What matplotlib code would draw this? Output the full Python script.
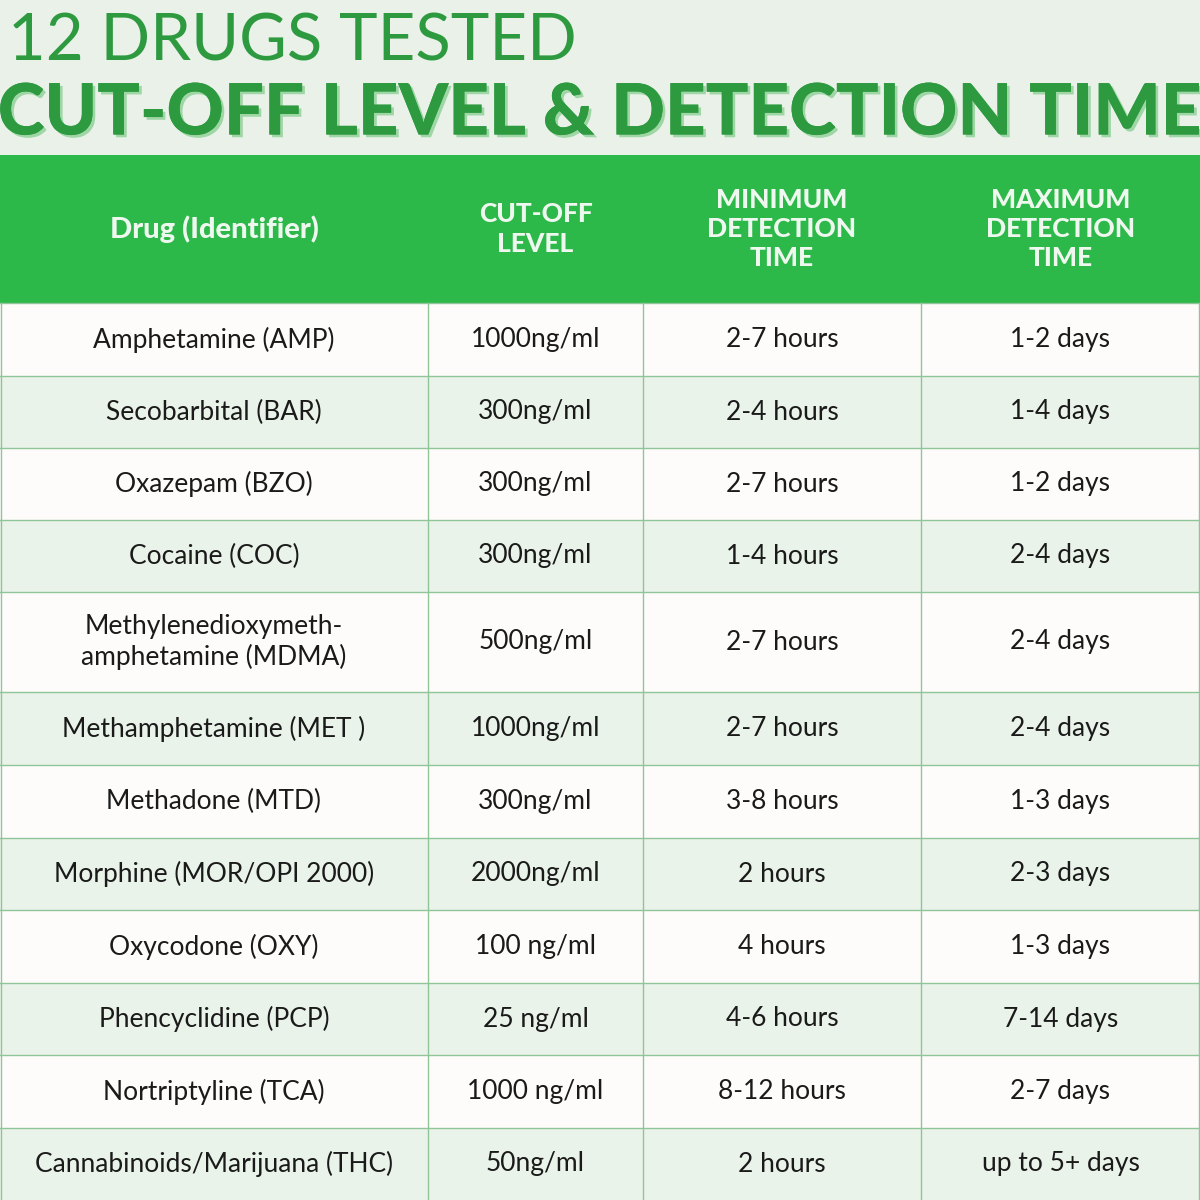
import matplotlib.pyplot as plt
import matplotlib.patches as patches
import matplotlib.patheffects as pe

plt.rcParams['font.family'] = ['Lato', 'DejaVu Sans']

headers = ["Drug (Identifier)", "CUT-OFF\nLEVEL", "MINIMUM\nDETECTION\nTIME", "MAXIMUM\nDETECTION\nTIME"]
drugs = ["Amphetamine (AMP)", "Secobarbital (BAR)", "Oxazepam (BZO)", "Cocaine (COC)",
         "Methylenedioxymeth-\namphetamine (MDMA)", "Methamphetamine (MET )", "Methadone (MTD)",
         "Morphine (MOR/OPI 2000)", "Oxycodone (OXY)", "Phencyclidine (PCP)",
         "Nortriptyline (TCA)", "Cannabinoids/Marijuana (THC)"]
cutoff = ["1000ng/ml", "300ng/ml", "300ng/ml", "300ng/ml", "500ng/ml", "1000ng/ml", "300ng/ml",
          "2000ng/ml", "100 ng/ml", "25 ng/ml", "1000 ng/ml", "50ng/ml"]
min_time = ["2-7 hours", "2-4 hours", "2-7 hours", "1-4 hours", "2-7 hours", "2-7 hours", "3-8 hours",
            "2 hours", "4 hours", "4-6 hours", "8-12 hours", "2 hours"]
max_time = ["1-2 days", "1-4 days", "1-2 days", "2-4 days", "2-4 days", "2-4 days", "1-3 days",
            "2-3 days", "1-3 days", "7-14 days", "2-7 days", "up to 5+ days"]

col_edges = [0, 428, 643, 921, 1200]
row_edges = [303, 376, 448, 520, 592, 692, 765, 838, 910, 983, 1055, 1128, 1200]

fig = plt.figure(figsize=(12, 12), dpi=100)
fig.patch.set_facecolor('#e9f1e9')
ax = fig.add_axes([0, 0, 1, 1])
ax.set_xlim(0, 1200)
ax.set_ylim(1200, 0)
ax.axis('off')

# titles
ax.text(8, 42, "12 DRUGS TESTED", fontsize=47, fontweight='normal', color='#2e9a40', va='center', ha='left')
ax.text(600, 114, "CUT-OFF LEVEL & DETECTION TIME", fontsize=51, fontweight='black', color='#2e9a40',
        va='center', ha='center',
        path_effects=[pe.withSimplePatchShadow(offset=(2, -2), shadow_rgbFace='#9fd6a5', alpha=1), pe.Normal()])

# header band
ax.add_patch(patches.Rectangle((0, 155), 1200, 148, facecolor='#2db84a', edgecolor='none'))
for i, h in enumerate(headers):
    cx = (col_edges[i] + col_edges[i + 1]) / 2
    ax.text(cx, 229, h, fontsize=21 if i == 0 else 19, fontweight='black', color='#eef8ee',
            ha='center', va='center', linespacing=1.25)

# body rows
columns = [drugs, cutoff, min_time, max_time]
for r in range(len(drugs)):
    y0, y1 = row_edges[r], row_edges[r + 1]
    ax.add_patch(patches.Rectangle((0, y0), 1200, y1 - y0,
                                   facecolor='#fdfcfb' if r % 2 == 0 else '#eaf3ea', edgecolor='none'))
    for c, col in enumerate(columns):
        cx = (col_edges[c] + col_edges[c + 1]) / 2
        ax.text(cx, (y0 + y1) / 2, col[r], fontsize=19, color='#1a1a1a', ha='center', va='center',
                linespacing=1.2)

# grid lines
for y in row_edges[:-1]:
    ax.plot([0, 1200], [y, y], color='#8fc597', lw=1)
for x in col_edges[1:-1]:
    ax.plot([x, x], [303, 1200], color='#8fc597', lw=1)
ax.plot([1, 1], [303, 1200], color='#8fc597', lw=1)
ax.plot([1199, 1199], [303, 1200], color='#8fc597', lw=1)

fig.savefig('out.png', dpi=100, facecolor=fig.get_facecolor())
